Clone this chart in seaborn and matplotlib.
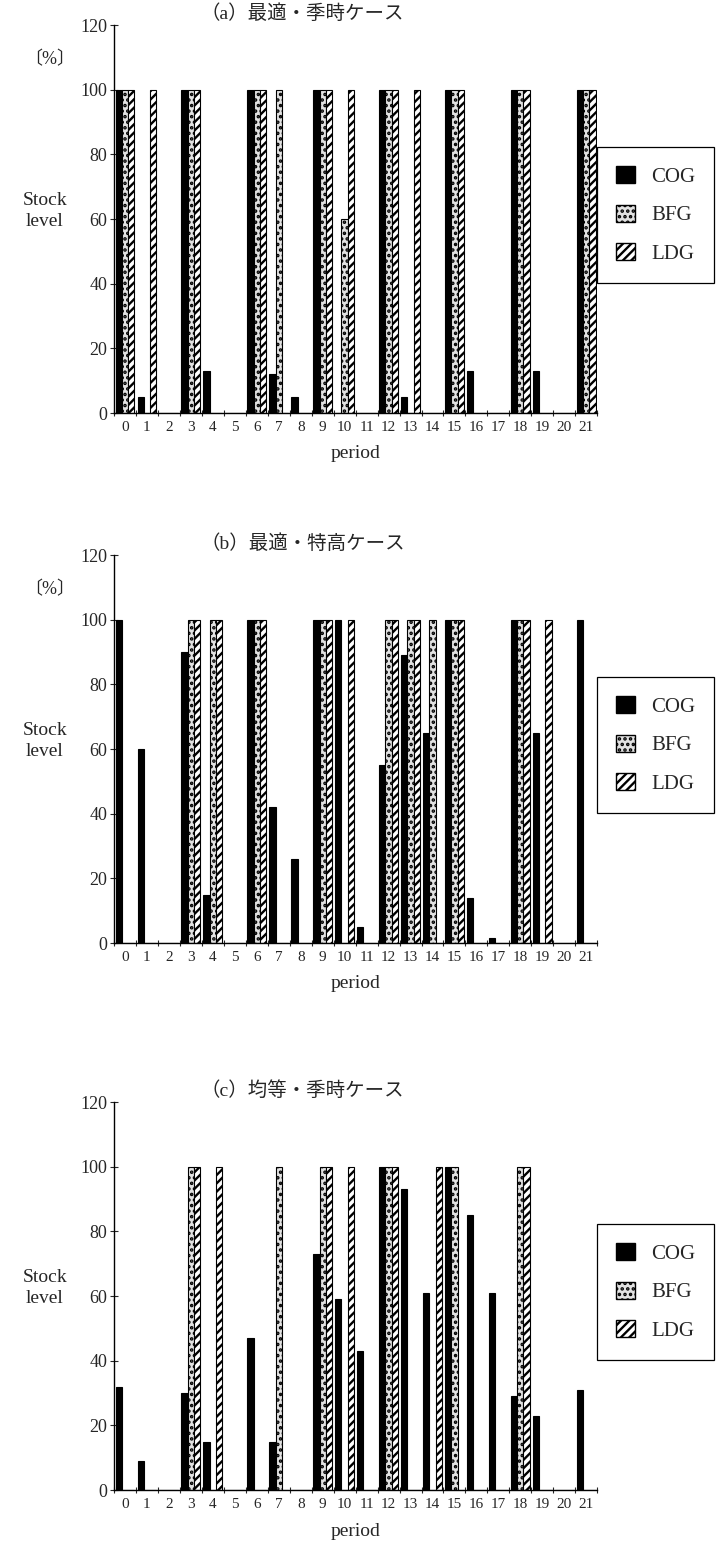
import numpy as np
import pandas as pd
import matplotlib
matplotlib.use("Agg")
import matplotlib.pyplot as plt
from matplotlib.patches import Patch
import seaborn as sns

# stock level (%) per period
periods = list(range(22))
gases = ["COG", "BFG", "LDG"]

a_cog = [100, 5, 0, 100, 13, 0, 100, 12, 5, 100, 0, 0, 100, 5, 0, 100, 13, 0, 100, 13, 0, 100]
a_bfg = [100, 0, 0, 100, 0, 0, 100, 100, 0, 100, 60, 0, 100, 0, 0, 100, 0, 0, 100, 0, 0, 100]
a_ldg = [100, 100, 0, 100, 0, 0, 100, 0, 0, 100, 100, 0, 100, 100, 0, 100, 0, 0, 100, 0, 0, 100]

b_cog = [100, 60, 0, 90, 15, 0, 100, 42, 26, 100, 100, 5, 55, 89, 65, 100, 14, 1.5, 100, 65, 0, 100]
b_bfg = [0, 0, 0, 100, 100, 0, 100, 0, 0, 100, 0, 0, 100, 100, 100, 100, 0, 0, 100, 0, 0, 0]
b_ldg = [0, 0, 0, 100, 100, 0, 100, 0, 0, 100, 100, 0, 100, 100, 0, 100, 0, 0, 100, 100, 0, 0]

c_cog = [32, 9, 0, 30, 15, 0, 47, 15, 0, 73, 59, 43, 100, 93, 61, 100, 85, 61, 29, 23, 0, 31]
c_bfg = [0, 0, 0, 100, 0, 0, 0, 100, 0, 100, 0, 0, 100, 0, 0, 100, 0, 0, 100, 0, 0, 0]
c_ldg = [0, 0, 0, 100, 100, 0, 0, 0, 0, 100, 100, 0, 100, 0, 100, 0, 0, 0, 100, 0, 0, 0]

titles = ["（a）最適・季時ケース", "（b）最適・特高ケース", "（c）均等・季時ケース"]
panels = [(a_cog, a_bfg, a_ldg), (b_cog, b_bfg, b_ldg), (c_cog, c_bfg, c_ldg)]
show_pct = [True, True, False]

sns.set_style("ticks")
plt.rcParams["font.family"] = ["Liberation Serif", "Noto Sans CJK JP"]
plt.rcParams["hatch.linewidth"] = 1.7

face = {"COG": "black", "BFG": "#e2e2e2", "LDG": "white"}
hatch = {"COG": None, "BFG": "...", "LDG": "////"}

fig = plt.figure(figsize=(7.19, 15.47), dpi=100)
bottoms = [0.733, 0.3904, 0.0368]

for i, (vals, title) in enumerate(zip(panels, titles)):
    ax = fig.add_axes([0.1586, bottoms[i], 0.672, 0.2508])
    df = pd.DataFrame({
        "period": periods * 3,
        "gas": [g for g in gases for _ in periods],
        "value": list(vals[0]) + list(vals[1]) + list(vals[2]),
    })
    sns.barplot(data=df, x="period", y="value", hue="gas", order=periods,
                hue_order=gases, palette=face, saturation=1, width=0.86,
                edgecolor="black", linewidth=0.8, ax=ax, legend=False)
    for cont, g in zip(ax.containers, gases):
        for bar in cont:
            if hatch[g]:
                bar.set_hatch(hatch[g])

    ax.set_xlim(-0.5, 21.5)
    ax.set_ylim(0, 120)
    ax.set_yticks(range(0, 121, 20))
    ax.set_xticks(periods)
    ax.set_xticks(np.arange(-0.5, 22, 1), minor=True)
    ax.tick_params(axis="x", which="major", length=0, labelsize=11, pad=6)
    ax.tick_params(axis="x", which="minor", length=5, direction="inout", width=0.8)
    ax.tick_params(axis="y", length=6, direction="inout", width=0.8, labelsize=13, pad=2)
    sns.despine(ax=ax)
    for s in ["left", "bottom"]:
        ax.spines[s].set_linewidth(1.0)
        ax.spines[s].set_color("black")

    ax.set_xlabel("period", fontsize=14, labelpad=8)
    ax.set_ylabel("Stock\nlevel", rotation=0, fontsize=14, linespacing=1.3,
                  ha="center", va="center")
    ax.yaxis.set_label_coords(-0.143, 0.52)
    if show_pct[i]:
        ax.text(-0.133, 0.91, "〔%〕", transform=ax.transAxes, fontsize=13,
                ha="center", va="center")
    ax.text(0.39, 1.03, title, transform=ax.transAxes, fontsize=14,
            ha="center", va="center")

    handles = [Patch(facecolor=face[g], edgecolor="black", hatch=hatch[g], label=g)
               for g in gases]
    leg = ax.legend(handles=handles, loc="upper left", bbox_to_anchor=(1.0, 0.685),
                    fontsize=15, frameon=True, fancybox=False, framealpha=1,
                    edgecolor="black", handlelength=0.9, handleheight=0.9,
                    labelspacing=0.85, borderpad=0.9, handletextpad=0.8,
                    borderaxespad=0.0)
    leg.get_frame().set_linewidth(0.9)

fig.savefig("out.png", dpi=100)
